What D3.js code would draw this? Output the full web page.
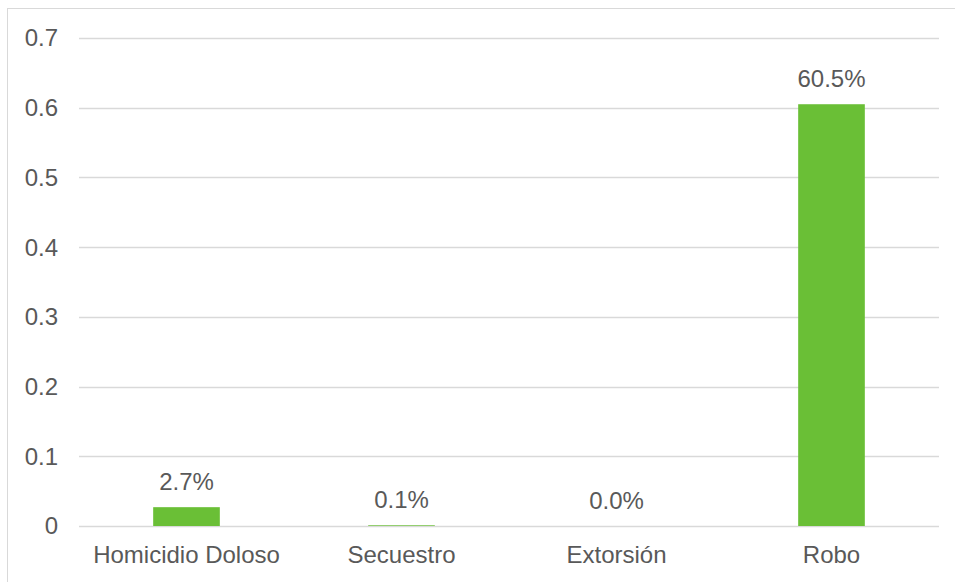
<!DOCTYPE html>
<html>
<head>
<meta charset="utf-8">
<script src="https://cdn.jsdelivr.net/npm/d3@7"></script>
<style>
body { margin: 0; background: #fff; }
svg { display: block; }
text { font-family: "Liberation Sans", Arial, sans-serif; fill: #595959; }
</style>
</head>
<body>
<script>
var categories = ["Homicidio Doloso", "Secuestro", "Extorsión", "Robo"];
var values = [0.027, 0.001, 0.0, 0.605];
var labels = ["2.7%", "0.1%", "0.0%", "60.5%"];
var yTicks = [0, 0.1, 0.2, 0.3, 0.4, 0.5, 0.6, 0.7];

var width = 955, height = 582;
var margin = {top: 38, right: 16, bottom: 56, left: 79};
var fontSize = "24px";

var svg = d3.select("body").append("svg")
    .attr("width", width)
    .attr("height", height);

// chart frame (only top and left edges are in view)
svg.append("rect")
    .attr("x", 7.5).attr("y", 8.5)
    .attr("width", width + 10).attr("height", height + 10)
    .attr("fill", "none")
    .attr("stroke", "#d9d9d9")
    .attr("stroke-width", 1);

var x = d3.scaleBand()
    .domain(categories)
    .range([margin.left, width - margin.right])
    .padding(0);

var y = d3.scaleLinear()
    .domain([0, 0.7])
    .range([height - margin.bottom, margin.top]);

var barW = x.bandwidth() * 0.31;

// gridlines
svg.append("g")
    .selectAll("line")
    .data(yTicks)
    .enter().append("line")
    .attr("x1", margin.left)
    .attr("x2", width - margin.right)
    .attr("y1", function (d) { return Math.round(y(d)) + 0.5; })
    .attr("y2", function (d) { return Math.round(y(d)) + 0.5; })
    .attr("stroke", "#d9d9d9")
    .attr("stroke-width", 1.3);

// y labels
svg.append("g")
    .selectAll("text")
    .data(yTicks)
    .enter().append("text")
    .attr("x", 58)
    .attr("y", function (d) { return y(d); })
    .attr("dy", "0.35em")
    .attr("text-anchor", "end")
    .style("font-size", fontSize)
    .text(function (d) { return d === 0 ? "0" : d3.format(".1f")(d); });

// bars
svg.append("g")
    .selectAll("rect")
    .data(values)
    .enter().append("rect")
    .attr("x", function (d, i) { return x(categories[i]) + x.bandwidth() / 2 - barW / 2; })
    .attr("y", function (d) { return y(d); })
    .attr("width", barW)
    .attr("height", function (d) { return y(0) - y(d); })
    .attr("fill", "#6abf36");

// data labels
svg.append("g")
    .selectAll("text")
    .data(values)
    .enter().append("text")
    .attr("x", function (d, i) { return x(categories[i]) + x.bandwidth() / 2; })
    .attr("y", function (d) { return y(d) - 17; })
    .attr("text-anchor", "middle")
    .style("font-size", fontSize)
    .text(function (d, i) { return labels[i]; });

// category labels
svg.append("g")
    .selectAll("text")
    .data(categories)
    .enter().append("text")
    .attr("x", function (d) { return x(d) + x.bandwidth() / 2; })
    .attr("y", 563)
    .attr("text-anchor", "middle")
    .style("font-size", fontSize)
    .text(function (d) { return d; });
</script>
</body>
</html>
